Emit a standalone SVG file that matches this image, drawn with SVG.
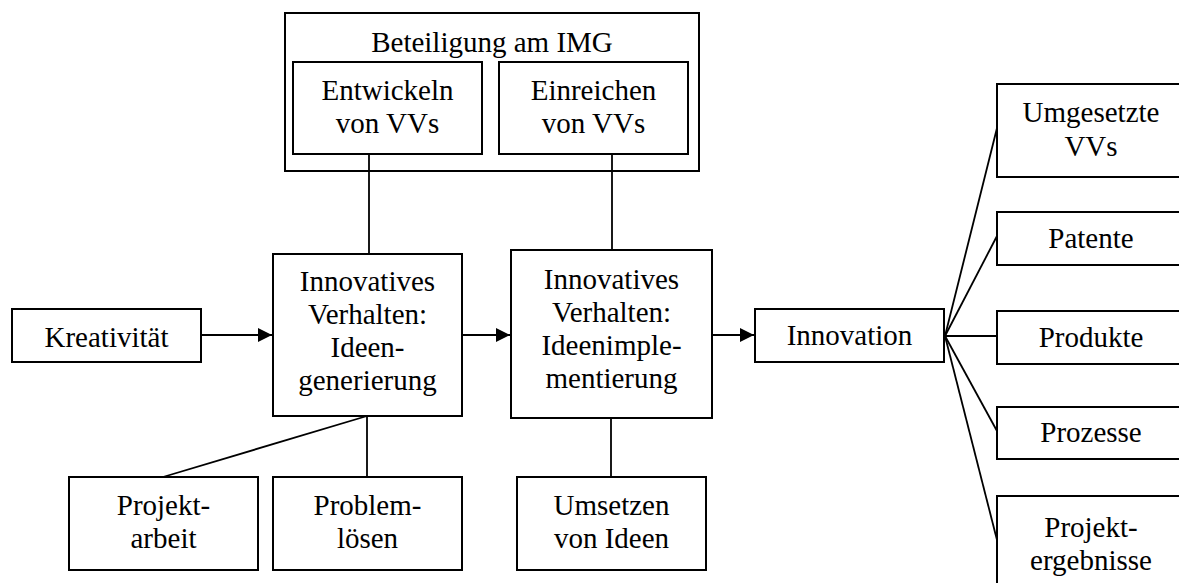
<svg xmlns="http://www.w3.org/2000/svg" width="1179" height="583" viewBox="0 0 1179 583">
  <style>
    .box { fill: #ffffff; stroke: #000000; stroke-width: 2; }
    .frame { fill: none; stroke: #000000; stroke-width: 2; }
    .lbl { font-family: "Liberation Serif", "Times New Roman", serif; font-size: 29px; fill: #000000; text-anchor: middle; }
    .link { fill: none; stroke: #000000; stroke-width: 1.8; }
  </style>
  <defs>
    <marker id="arrow" viewBox="0 0 14 14" refX="14" refY="7" markerWidth="14" markerHeight="14" markerUnits="userSpaceOnUse" orient="auto">
      <path d="M0,0 L14,7 L0,14 Z" fill="#000000"/>
    </marker>
  </defs>
  <rect width="1179" height="583" fill="#ffffff"/>

  <!-- connectors -->
  <g id="connectors">
    <line class="link" x1="201" y1="335" x2="272" y2="335" marker-end="url(#arrow)"/>
    <line class="link" x1="462" y1="335" x2="510" y2="335" marker-end="url(#arrow)"/>
    <line class="link" x1="712" y1="335" x2="754" y2="335" marker-end="url(#arrow)"/>
    <line class="link" x1="369" y1="154" x2="369" y2="254"/>
    <line class="link" x1="612" y1="154" x2="612" y2="250"/>
    <line class="link" x1="367" y1="416" x2="163" y2="477"/>
    <line class="link" x1="367" y1="416" x2="367" y2="477"/>
    <line class="link" x1="611" y1="418" x2="611" y2="477"/>
    <line class="link" x1="945" y1="336" x2="997" y2="128"/>
    <line class="link" x1="945" y1="336" x2="997" y2="236"/>
    <line class="link" x1="945" y1="336" x2="997" y2="336"/>
    <line class="link" x1="945" y1="336" x2="997" y2="431"/>
    <line class="link" x1="945" y1="336" x2="997" y2="540"/>
  </g>

  <!-- participation frame with its two activities -->
  <g id="img-beteiligung">
    <rect class="frame" x="285" y="13" width="414" height="158"/>
    <text class="lbl" x="492" y="52">Beteiligung am IMG</text>
  </g>
  <g id="entwickeln">
    <rect class="box" x="293" y="62" width="189" height="92"/>
    <text class="lbl" x="387.5" y="100">Entwickeln</text>
    <text class="lbl" x="387.5" y="133">von VVs</text>
  </g>
  <g id="einreichen">
    <rect class="box" x="499" y="62" width="189" height="92"/>
    <text class="lbl" x="593.5" y="100">Einreichen</text>
    <text class="lbl" x="593.5" y="133">von VVs</text>
  </g>

  <!-- main chain -->
  <g id="kreativitaet">
    <rect class="box" x="12" y="309" width="189" height="53"/>
    <text class="lbl" x="106.5" y="347">Kreativität</text>
  </g>
  <g id="ideengenerierung">
    <rect class="box" x="273" y="254" width="189" height="162"/>
    <text class="lbl" x="367.5" y="291">Innovatives</text>
    <text class="lbl" x="367.5" y="324">Verhalten:</text>
    <text class="lbl" x="367.5" y="357">Ideen-</text>
    <text class="lbl" x="367.5" y="390">generierung</text>
  </g>
  <g id="ideenimplementierung">
    <rect class="box" x="511" y="250" width="201" height="168"/>
    <text class="lbl" x="611.5" y="289">Innovatives</text>
    <text class="lbl" x="611.5" y="322">Verhalten:</text>
    <text class="lbl" x="611.5" y="355">Ideenimple-</text>
    <text class="lbl" x="611.5" y="388">mentierung</text>
  </g>
  <g id="innovation">
    <rect class="box" x="755" y="309" width="189" height="53"/>
    <text class="lbl" x="849.5" y="345">Innovation</text>
  </g>

  <!-- bottom row -->
  <g id="projektarbeit">
    <rect class="box" x="69" y="477" width="189" height="93"/>
    <text class="lbl" x="163.5" y="515">Projekt-</text>
    <text class="lbl" x="163.5" y="548">arbeit</text>
  </g>
  <g id="problemloesen">
    <rect class="box" x="273" y="477" width="189" height="93"/>
    <text class="lbl" x="367.5" y="515">Problem-</text>
    <text class="lbl" x="367.5" y="548">lösen</text>
  </g>
  <g id="umsetzen">
    <rect class="box" x="517" y="477" width="189" height="93"/>
    <text class="lbl" x="611.5" y="515">Umsetzen</text>
    <text class="lbl" x="611.5" y="548">von Ideen</text>
  </g>

  <!-- outcomes (boxes run past the right edge) -->
  <g id="umgesetzte-vvs">
    <rect class="box" x="997" y="84" width="200" height="93"/>
    <text class="lbl" x="1091" y="122">Umgesetzte</text>
    <text class="lbl" x="1091" y="156">VVs</text>
  </g>
  <g id="patente">
    <rect class="box" x="997" y="212" width="200" height="53"/>
    <text class="lbl" x="1091" y="248">Patente</text>
  </g>
  <g id="produkte">
    <rect class="box" x="997" y="311" width="200" height="53"/>
    <text class="lbl" x="1091" y="347">Produkte</text>
  </g>
  <g id="prozesse">
    <rect class="box" x="997" y="407" width="200" height="52"/>
    <text class="lbl" x="1091" y="442">Prozesse</text>
  </g>
  <g id="projektergebnisse">
    <rect class="box" x="997" y="496" width="200" height="100"/>
    <text class="lbl" x="1091" y="537">Projekt-</text>
    <text class="lbl" x="1091" y="570">ergebnisse</text>
  </g>
</svg>
